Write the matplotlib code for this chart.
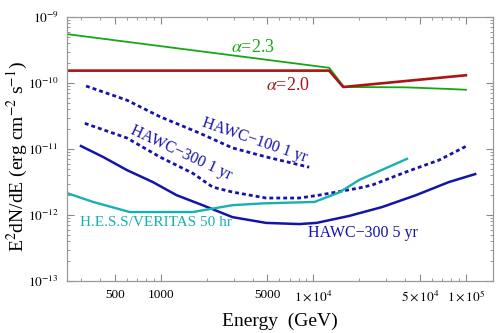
import numpy as np
import matplotlib
matplotlib.use("Agg")
import matplotlib.pyplot as plt
from matplotlib.ticker import FixedLocator, NullFormatter

plt.rcParams['font.family'] = 'Liberation Serif'
plt.rcParams['mathtext.fontset'] = 'stix'

# alpha = 2.3 source spectrum
e_a23 = [243, 12700, 15900, 40000, 80000, 1.0e5]
f_a23 = [5.5e-10, 1.7e-10, 8.7e-11, 8.6e-11, 8.1e-11, 7.9e-11]

# alpha = 2.0 source spectrum
e_a20 = [243, 12700, 15700, 1.0e5]
f_a20 = [1.54e-10, 1.54e-10, 8.7e-11, 1.31e-10]

# HAWC-100 1 yr
e_h100 = [324, 600, 985, 1800, 2950, 4900, 9400]
f_h100 = [9.0e-11, 5.5e-11, 3.1e-11, 1.74e-11, 1.04e-11, 7.6e-12, 5.3e-12]

# HAWC-300 1 yr
e_h300 = [318, 600, 985, 1620, 2190, 2950, 4900, 8090, 10900, 20000, 24300, 40600, 66700, 1.01e5]
f_h300 = [2.45e-11, 1.47e-11, 7.6e-12, 4.3e-12, 2.65e-12, 2.23e-12, 1.81e-12, 1.81e-12,
          2.0e-12, 2.57e-12, 2.85e-12, 4.5e-12, 6.8e-12, 1.11e-11]

# HAWC-300 5 yr
e_h5 = [300, 418, 600, 887, 1270, 1880, 2950, 4900, 8090, 10500, 17200, 28200, 47100, 77400, 1.15e5]
f_h5 = [1.11e-11, 7.6e-12, 4.8e-12, 3.16e-12, 2.0e-12, 1.41e-12, 9.3e-13, 7.6e-13, 7.3e-13,
        7.6e-13, 9.7e-13, 1.32e-12, 2.0e-12, 3.16e-12, 4.17e-12]

# H.E.S.S./VERITAS 50 hr
e_hess = [243, 360, 627, 1620, 2950, 4640, 10200, 14800, 20000, 41100]
f_hess = [2.15e-12, 1.58e-12, 1.11e-12, 1.11e-12, 1.41e-12, 1.5e-12, 1.58e-12, 2.2e-12, 3.4e-12, 7.1e-12]

xticks = [500, 1000, 5000, 1e4, 5e4, 1e5]
xticklabels = ['500', '1000', '5000', r'$1\times10^4$', r'$5\times10^4$', r'$1\times10^5$']
yticks = [1e-13, 1e-12, 1e-11, 1e-10, 1e-9]
yticklabels = [r'$10^{-13}$', r'$10^{-12}$', r'$10^{-11}$', r'$10^{-10}$', r'$10^{-9}$']

green = '#14a814'
red = '#aa1414'
blue = '#1414a8'
cyan = '#18b0b0'

fig = plt.figure(figsize=(4.98, 3.33), dpi=100)
ax = fig.add_axes([0.1345, 0.156, 0.855, 0.793])

ax.plot(e_a23, f_a23, color=green, lw=1.3)
ax.plot(e_a20, f_a20, color=red, lw=1.9)
ax.plot(e_h100, f_h100, color=blue, lw=2.0, ls=(0, (1.4, 1.1)))
ax.plot(e_h300, f_h300, color=blue, lw=2.0, ls=(0, (1.4, 1.1)))
ax.plot(e_h5, f_h5, color=blue, lw=1.8)
ax.plot(e_hess, f_hess, color=cyan, lw=1.7)

ax.set_xscale('log')
ax.set_yscale('log')
ax.set_xlim(243, 1.5e5)
ax.set_ylim(1e-13, 1e-9)

ax.xaxis.set_major_locator(FixedLocator(xticks))
ax.set_xticklabels(xticklabels)
minor_x = [m * 10 ** d for d in range(2, 6) for m in range(1, 10)]
minor_x = [v for v in minor_x if v not in xticks]
ax.xaxis.set_minor_locator(FixedLocator(minor_x))
ax.xaxis.set_minor_formatter(NullFormatter())
ax.yaxis.set_major_locator(FixedLocator(yticks))
ax.set_yticklabels(yticklabels)
ax.yaxis.set_minor_locator(FixedLocator([m * 10.0 ** d for d in range(-13, -9) for m in range(2, 10)]))
ax.yaxis.set_minor_formatter(NullFormatter())

ax.tick_params(which='both', direction='in', top=True, right=True, color='#888888',
               labelsize=9.5, pad=6)
ax.tick_params(which='major', length=5)
ax.tick_params(which='minor', length=2.5)
for s in ax.spines.values():
    s.set_color('#999999')
    s.set_linewidth(0.9)

ax.set_xlabel('Energy  (GeV)', fontsize=14, labelpad=6)
ax.set_ylabel(r'E$^2$dN/dE (erg cm$^{-2}$ s$^{-1}$)', fontsize=14)
ax.yaxis.set_label_coords(-0.088, 0.47)

ax.text(253, 333 - 48, r'$\alpha$=2.3', transform=None, color=green, fontsize=13,
        ha='center', va='center')
ax.text(288, 333 - 85, r'$\alpha$=2.0', transform=None, color=red, fontsize=13,
        ha='center', va='center')
ax.text(255, 333 - 140, 'HAWC\u2212100 1 yr', transform=None, color=blue, fontsize=11.5,
        ha='center', va='center', rotation=-19)
ax.text(181, 333 - 153, 'HAWC\u2212300 1 yr', transform=None, color=blue, fontsize=11.5,
        ha='center', va='center', rotation=-25)
ax.text(80, 333 - 223, 'H.E.S.S/VERITAS 50 hr', transform=None, color=cyan, fontsize=11,
        ha='left', va='center')
ax.text(363, 333 - 233, 'HAWC\u2212300 5 yr', transform=None, color=blue, fontsize=11.5,
        ha='center', va='center')

fig.savefig('out.png', dpi=100)
